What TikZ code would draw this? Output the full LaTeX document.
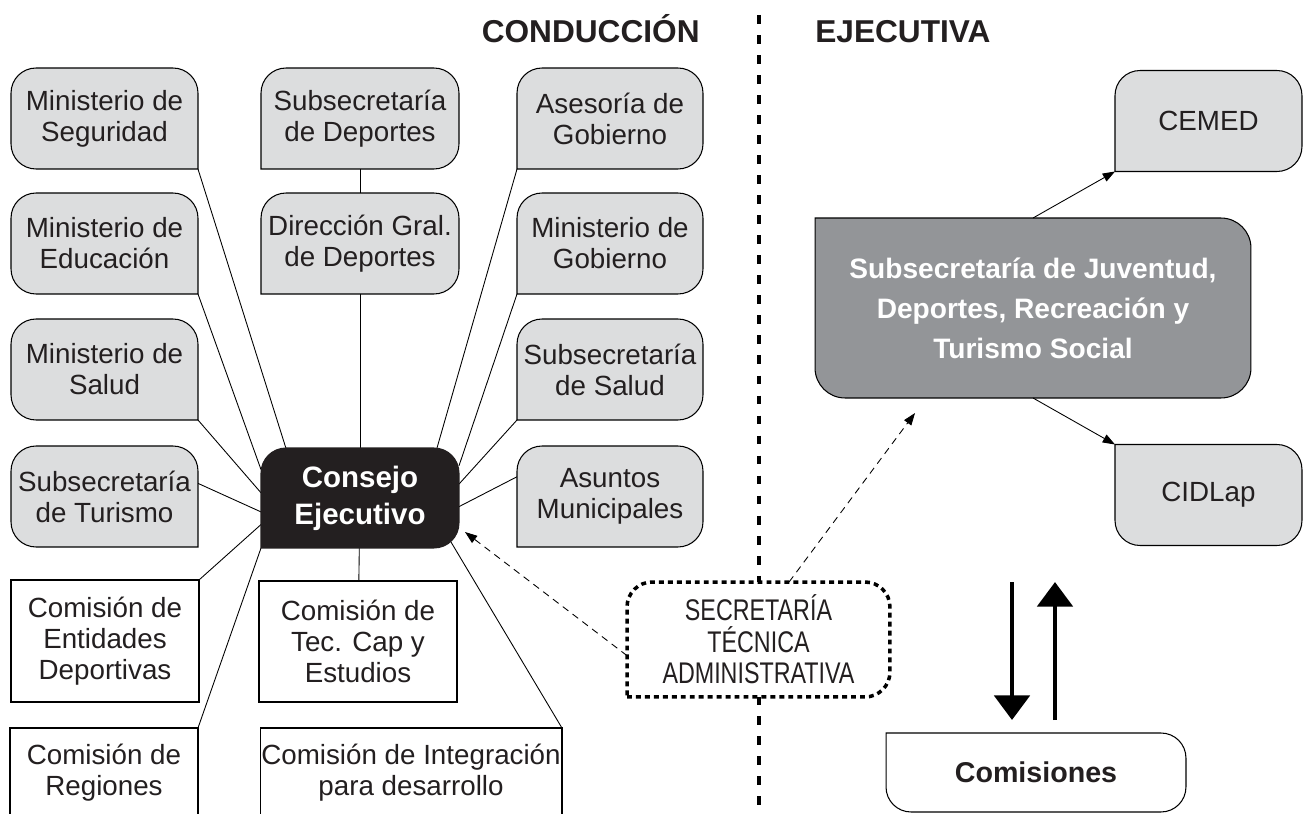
\documentclass[tikz,border=0pt]{standalone}
\usepackage{fontspec}
\setmainfont{Liberation Sans}
\newfontfamily\angosta[FakeStretch=0.78]{Liberation Sans}
\usepackage{xcolor}
\usetikzlibrary{positioning,arrows.meta,calc,backgrounds}

\definecolor{grisclaro}{HTML}{DCDDDE}
\definecolor{grisoscuro}{HTML}{939598}
\definecolor{casinegro}{HTML}{231F20}

% borde de caja: la primera esquina queda recta
\newcommand{\contorno}[6][]{%
  \filldraw[#1] (#2.#3) -- (#2.#4) -- (#2.#5) -- (#2.#6) -- (#2.#3);}

\begin{document}
\begin{tikzpicture}[x=0.02cm,y=-0.02cm,
    texto/.style={align=center,inner sep=0pt,outer sep=0pt,text=casinegro,font=\fontsize{15.8}{17.6}\selectfont},
    caja/.style={texto,minimum width=3.74cm,minimum height=2.02cm},
    cajaancha/.style={texto,minimum width=3.96cm,minimum height=2.02cm},
    comision/.style={texto,draw=black,fill=white,line width=0.6pt},
    titulo/.style={inner sep=0pt,text=casinegro,font=\bfseries\fontsize{18}{18}\selectfont},
    borde/.style={line width=0.6pt,line cap=rect,rounded corners=0.5cm},
    gris/.style={borde,fill=grisclaro,draw=black},
    linea/.style={line width=0.5pt},
    flecha/.style={line width=0.5pt,-{Triangle[length=7pt,width=5pt]}},
    guiones/.style={flecha,dash pattern=on 4pt off 3pt},
    gruesa/.style={line width=2.8pt,-{Triangle[length=14pt,width=20pt]}}]

\useasboundingbox (0,0) rectangle (1303,814);

% titulos
\node[titulo,anchor=base east] (conduccion) at (700,43) {CONDUCCIÓN};
\node[titulo,anchor=base west] (ejecutiva) at (815,43) {EJECUTIVA};

% columna izquierda
\node[caja] (seguridad) at (104.5,118.5) {Ministerio de\\Seguridad};
\node[caja] (educacion) at (104.5,243.5) {Ministerio de\\Educación};
\node[caja] (salud) at (104.5,369.5) {Ministerio de\\Salud};
\node[caja] (turismo) at (104.5,496.5) {Subsecretaría\\de Turismo};
\node[comision,minimum width=3.76cm,minimum height=2.44cm] (entidades) at (105,641) {Comisión de\\Entidades\\Deportivas};
\node[comision,minimum width=3.76cm,minimum height=1.8cm] (regiones) at (104,773) {Comisión de\\Regiones};

% columna central
\node[cajaancha] (subdeportes) at (360,118.5) {Subsecretaría\\de Deportes};
\node[cajaancha] (direccion) at (360,243.5) {Dirección Gral.\\de Deportes};
\node[cajaancha,text=white,font=\bfseries\fontsize{16.8}{21}\selectfont,minimum height=2cm] (consejo) at (360,498) {Consejo\\Ejecutivo};
\node[comision,minimum width=3.96cm,minimum height=2.42cm] (teccap) at (358,641.5) {Comisión de\\Tec. Cap y\\Estudios};
\node[comision,minimum width=6.04cm,minimum height=1.8cm] (integracion) at (411,773) {Comisión de Integración\\para desarrollo};

% columna derecha
\node[caja,minimum width=3.72cm] (asesoria) at (610,118.5) {Asesoría de\\Gobierno};
\node[caja,minimum width=3.72cm] (gobierno) at (610,243.5) {Ministerio de\\Gobierno};
\node[caja,minimum width=3.72cm] (subsalud) at (610,369.5) {Subsecretaría\\de Salud};
\node[caja,minimum width=3.72cm] (municipales) at (610,496.5) {Asuntos\\Municipales};

\node[texto,font=\angosta\fontsize{17}{18}\selectfont,minimum width=5.26cm,minimum height=2.3cm] (secretaria) at (758.5,639.5) {SECRETARÍA\\TÉCNICA\\ADMINISTRATIVA};

% lado ejecutivo
\node[caja] (cemed) at (1208.5,121) {CEMED};
\node[texto,text=white,font=\bfseries\fontsize{16}{22.8}\selectfont,minimum width=8.72cm,minimum height=3.6cm] (juventud) at (1033,308) {Subsecretaría de Juventud,\\Deportes, Recreación y\\Turismo Social};
\node[caja] (cidlap) at (1208.5,495) {CIDLap};
\node[texto,font=\bfseries\fontsize{16.3}{19}\selectfont,minimum width=6cm,minimum height=1.58cm] (comisiones) at (1036,772.5) {Comisiones};

\begin{scope}[on background layer]
  \fill[white] (0,0) rectangle (1303,814);
  % linea divisoria
  \coordinate (divisoria) at (759,15);
  \draw[line width=2.7pt,dash pattern=on 5pt off 6.4pt] (divisoria) -- (759,814);

  % conexiones al consejo
  \draw[linea] (seguridad.south east) -- (consejo.146);
  \draw[linea] (educacion.south east) -- (consejo.164);
  \draw[linea] (salud.south east) -- (consejo.177);
  \draw[linea] (turismo.8) -- (consejo.188);
  \draw[linea] (entidades.north east) -- (consejo.195);
  \draw[linea] (regiones.north east) -- (consejo.south west);
  \draw[linea] (subdeportes) -- (direccion);
  \draw[linea] (direccion) -- (consejo);
  \draw[linea] (consejo) -- (teccap);
  \draw[linea] (asesoria.south west) -- (consejo.33);
  \draw[linea] (gobierno.south west) -- (consejo.18);
  \draw[linea] (subsalud.south west) -- (consejo.8);
  \draw[linea] (municipales.168) -- (consejo.355);
  \draw[linea] (integracion.north east) -- ($(consejo.south east)+(-8,-6)$);

  % cajas
  \contorno[gris]{seguridad}{south east}{north east}{north west}{south west}
  \contorno[gris]{educacion}{south east}{north east}{north west}{south west}
  \contorno[gris]{salud}{south east}{north east}{north west}{south west}
  \contorno[gris]{turismo}{south east}{north east}{north west}{south west}
  \contorno[gris]{subdeportes}{south west}{south east}{north east}{north west}
  \contorno[gris]{direccion}{south west}{south east}{north east}{north west}
  \contorno[borde,fill=casinegro,draw=casinegro]{consejo}{south west}{south east}{north east}{north west}
  \contorno[gris]{asesoria}{south west}{south east}{north east}{north west}
  \contorno[gris]{gobierno}{south west}{south east}{north east}{north west}
  \contorno[gris]{subsalud}{south west}{south east}{north east}{north west}
  \contorno[gris]{municipales}{south west}{south east}{north east}{north west}
  \contorno[borde,fill=white,draw=black,line width=2pt,line cap=butt,dash pattern=on 2.8pt off 2.3pt]{secretaria}{south west}{south east}{north east}{north west}
  \contorno[gris]{cemed}{south west}{south east}{north east}{north west}
  \contorno[borde,rounded corners=0.6cm,fill=grisoscuro,draw=black]{juventud}{north west}{south west}{south east}{north east}
  \contorno[gris]{cidlap}{north west}{south west}{south east}{north east}
  \contorno[borde,fill=white,draw=black]{comisiones}{north west}{south west}{south east}{north east}
\end{scope}

% flechas
\draw[flecha] (juventud.north) -- (cemed.south west);
\draw[flecha] (juventud.south) -- (cidlap.north west);
\coordinate (puntaA) at ($(consejo.south east)+(6,-16)$);
\coordinate (puntaB) at ($(juventud.south west)+(100,15)$);
\draw[guiones] (secretaria.187) -- (puntaA);
\draw[guiones] (secretaria.62) -- (puntaB);
\draw[gruesa] ([xshift=-0.48cm,yshift=3.02cm]comisiones.north) -- ([xshift=-0.48cm,yshift=0.26cm]comisiones.north);
\draw[gruesa] ([xshift=0.38cm,yshift=0.26cm]comisiones.north) -- ([xshift=0.38cm,yshift=3.02cm]comisiones.north);
\end{tikzpicture}
\end{document}
